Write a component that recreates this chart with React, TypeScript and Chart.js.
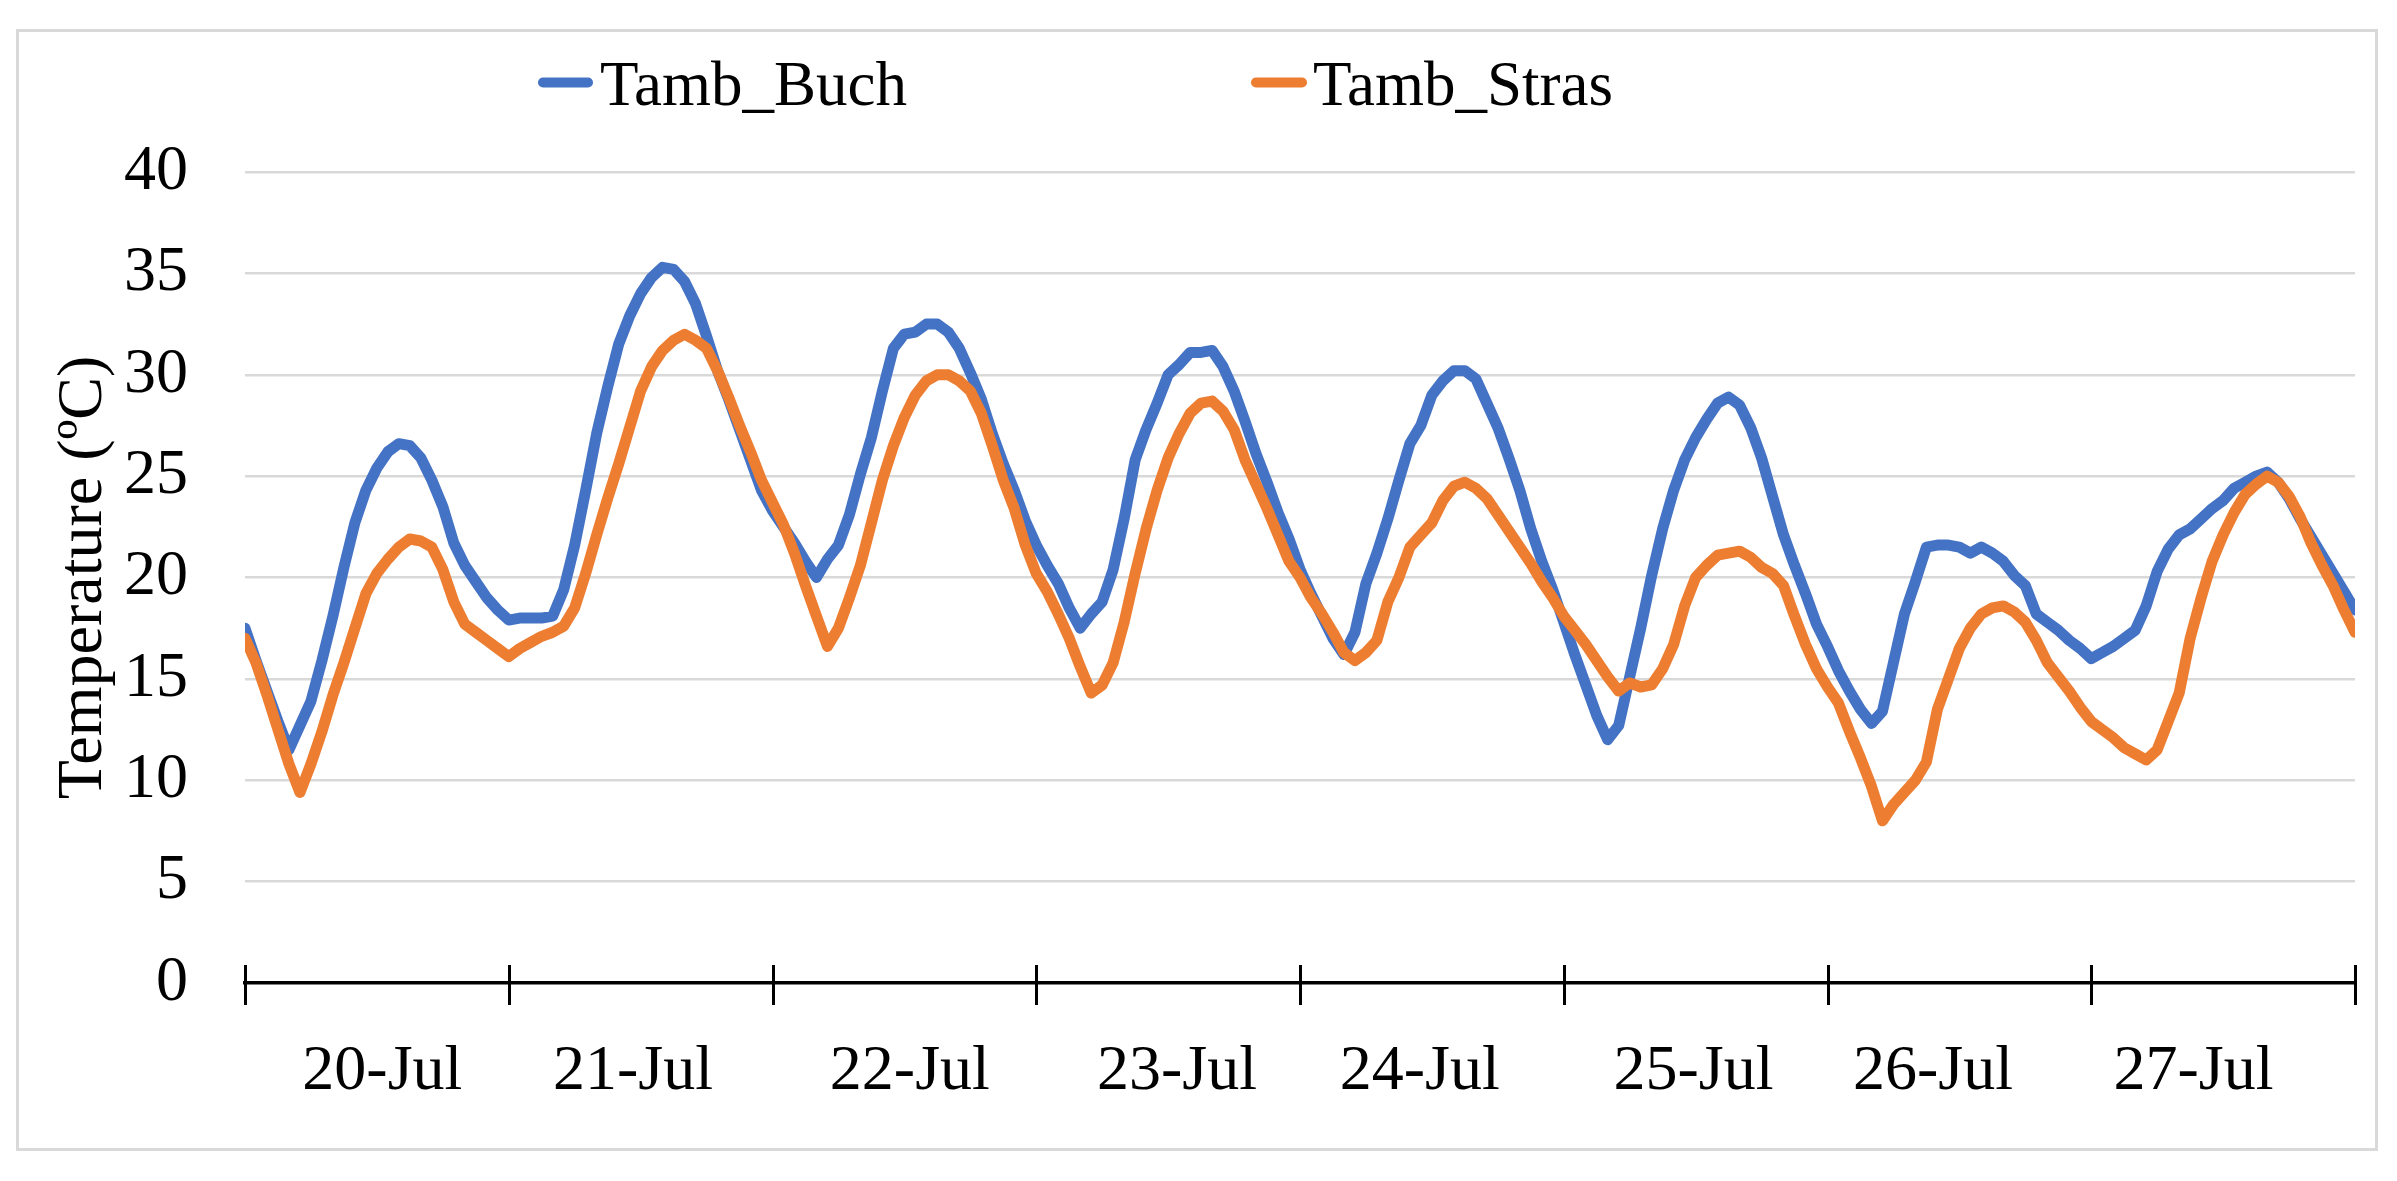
import React, { useEffect, useRef } from 'react';
import { Chart, registerables } from 'chart.js';

Chart.register(...registerables);

// Hourly air temperature, hour 0 = 20-Jul 00:00 ... hour 192 = 28-Jul 00:00
const tambBuch: number[] = [
  17.5, 15.9, 14.4, 12.9, 11.5, 12.7, 13.9, 15.9, 18.1, 20.5, 22.7, 24.3,
  25.4, 26.2, 26.6, 26.5, 25.9, 24.8, 23.5, 21.7, 20.6, 19.8, 19.0, 18.4,
  17.9, 18.0, 18.0, 18.0, 18.1, 19.4, 21.6, 24.3, 27.1, 29.4, 31.5, 32.9,
  34.0, 34.8, 35.3, 35.2, 34.6, 33.5, 31.9, 30.2, 28.8, 27.3, 25.8, 24.3,
  23.3, 22.5, 21.7, 20.8, 20.0, 20.9, 21.6, 23.1, 25.1, 26.9, 29.2, 31.3,
  32.0, 32.1, 32.5, 32.5, 32.1, 31.3, 30.1, 28.8, 27.1, 25.6, 24.3, 22.8,
  21.6, 20.6, 19.7, 18.5, 17.5, 18.2, 18.8, 20.4, 22.9, 25.8, 27.3, 28.6,
  30.0, 30.5, 31.1, 31.1, 31.2, 30.4, 29.2, 27.7, 26.1, 24.7, 23.2, 21.9,
  20.4, 19.2, 18.1, 17.0, 16.2, 17.3, 19.7, 21.2, 22.9, 24.8, 26.6, 27.5,
  29.0, 29.7, 30.2, 30.2, 29.8, 28.6, 27.4, 25.9, 24.3, 22.4, 20.8, 19.4,
  17.8, 16.2, 14.7, 13.2, 12.0, 12.7, 15.1, 17.5, 20.1, 22.4, 24.3, 25.8,
  26.9, 27.8, 28.6, 28.9, 28.5, 27.4, 25.9, 24.0, 22.1, 20.6, 19.2, 17.7,
  16.6, 15.4, 14.4, 13.5, 12.8, 13.4, 15.8, 18.2, 19.8, 21.5, 21.6, 21.6,
  21.5, 21.2, 21.5, 21.2, 20.8, 20.1, 19.6, 18.2, 17.8, 17.4, 16.9, 16.5,
  16.0, 16.3, 16.6, 17.0, 17.4, 18.6, 20.3, 21.4, 22.1, 22.4, 22.9, 23.4,
  23.8, 24.4, 24.7, 25.0, 25.2, 24.7, 23.9, 22.9, 22.0, 21.1, 20.2, 19.3,
  18.4,
];

const tambStras: number[] = [
  17.0, 15.8, 14.2, 12.5, 10.8, 9.4, 10.8, 12.4, 14.2, 15.8, 17.5, 19.2,
  20.2, 20.9, 21.5, 21.9, 21.8, 21.5, 20.4, 18.8, 17.7, 17.3, 16.9, 16.5,
  16.1, 16.5, 16.8, 17.1, 17.3, 17.6, 18.5, 20.2, 22.1, 23.9, 25.6, 27.4,
  29.2, 30.4, 31.2, 31.7, 32.0, 31.7, 31.3, 30.2, 28.9, 27.5, 26.2, 24.8,
  23.7, 22.6, 21.2, 19.6, 18.1, 16.6, 17.5, 19.0, 20.6, 22.7, 24.8, 26.5,
  27.9, 29.0, 29.7, 30.0, 30.0, 29.7, 29.2, 28.1, 26.5, 24.8, 23.4, 21.6,
  20.2, 19.3, 18.2, 17.0, 15.6, 14.3, 14.7, 15.8, 17.8, 20.2, 22.4, 24.3,
  25.9, 27.1, 28.1, 28.6, 28.7, 28.2, 27.3, 25.8, 24.6, 23.4, 22.1, 20.8,
  20.0, 19.0, 18.2, 17.3, 16.3, 15.9, 16.3, 16.9, 18.8, 20.0, 21.5, 22.1,
  22.7, 23.8, 24.5, 24.7, 24.4, 23.9, 23.1, 22.3, 21.5, 20.7, 19.8, 19.0,
  18.1, 17.4, 16.7, 15.9, 15.1, 14.4, 14.8, 14.6, 14.7, 15.5, 16.7, 18.6,
  20.0, 20.6, 21.1, 21.2, 21.3, 21.0, 20.5, 20.2, 19.6, 18.1, 16.7, 15.5,
  14.6, 13.8, 12.4, 11.1, 9.7, 8.0, 8.8, 9.4, 10.0, 10.9, 13.5, 15.0,
  16.5, 17.5, 18.2, 18.5, 18.6, 18.3, 17.8, 16.9, 15.8, 15.1, 14.4, 13.6,
  12.9, 12.5, 12.1, 11.6, 11.3, 11.0, 11.5, 12.9, 14.3, 17.0, 19.0, 20.8,
  22.1, 23.2, 24.1, 24.6, 25.0, 24.7, 24.0, 23.0, 21.7, 20.6, 19.6, 18.4,
  17.3,
];

const seriesNames: string[] = ['Tamb_Buch', 'Tamb_Stras'];
const seriesColors: string[] = ['#4472C4', '#ED7D31'];

const dayLabels: string[] = ['20-Jul', '21-Jul', '22-Jul', '23-Jul', '24-Jul', '25-Jul', '26-Jul', '27-Jul'];
const dayLabelHours: number[] = [12.5, 35.3, 60.5, 84.8, 106.9, 131.8, 153.6, 177.3];
const dayBoundaryHours: number[] = [0, 24, 48, 72, 96, 120, 144, 168, 192];

const yTitle = 'Temperature (ºC)';
const FONT = '"Liberation Serif", "Times New Roman", serif';

const W = 2397;
const H = 1181;

const framePlugin = {
  id: 'frame',
  beforeDraw(chart: any) {
    const ctx = chart.ctx;
    ctx.save();
    ctx.fillStyle = '#ffffff';
    ctx.fillRect(0, 0, chart.width, chart.height);
    ctx.strokeStyle = '#d9d9d9';
    ctx.lineWidth = 3;
    ctx.strokeRect(17.5, 30.5, 2359, 1119);
    ctx.restore();
  },
};

const dayTickPlugin = {
  id: 'dayTicks',
  afterDraw(chart: any) {
    const ctx = chart.ctx;
    const xs = chart.scales.x;
    const bottom = chart.chartArea.bottom;
    ctx.save();
    ctx.strokeStyle = '#000000';
    ctx.lineWidth = 3;
    dayBoundaryHours.forEach((h) => {
      const px = Math.round(xs.getPixelForValue(h)) + 0.5;
      ctx.beginPath();
      ctx.moveTo(px, bottom - 18);
      ctx.lineTo(px, bottom + 22);
      ctx.stroke();
    });
    ctx.restore();
  },
};

const legendPlugin = {
  id: 'customLegend',
  afterDraw(chart: any) {
    const ctx = chart.ctx;
    const items = [
      { x0: 543, x1: 588, tx: 600 },
      { x0: 1256, x1: 1302, tx: 1313 },
    ];
    ctx.save();
    ctx.font = `63px ${FONT}`;
    ctx.textBaseline = 'alphabetic';
    ctx.textAlign = 'left';
    chart.data.datasets.forEach((ds: any, i: number) => {
      const it = items[i];
      ctx.strokeStyle = ds.borderColor;
      ctx.lineWidth = 10;
      ctx.lineCap = 'round';
      ctx.beginPath();
      ctx.moveTo(it.x0, 82.5);
      ctx.lineTo(it.x1, 82.5);
      ctx.stroke();
      ctx.fillStyle = '#000000';
      ctx.fillText(ds.label, it.tx, 105);
    });
    ctx.restore();
  },
};

export default function App() {
  const canvasRef = useRef<HTMLCanvasElement | null>(null);

  useEffect(() => {
    if (!canvasRef.current) return;
    const series = [tambBuch, tambStras];
    const chart = new Chart(canvasRef.current, {
      type: 'line',
      data: {
        datasets: series.map((vals, i) => ({
          label: seriesNames[i],
          data: vals.map((v, h) => ({ x: h, y: v })),
          borderColor: seriesColors[i],
          backgroundColor: seriesColors[i],
          borderWidth: 11,
          pointRadius: 0,
          tension: 0,
          fill: false,
          borderJoinStyle: 'round',
          borderCapStyle: 'round',
          order: i === 0 ? 1 : 0,
        })),
      },
      options: {
        responsive: false,
        animation: false,
        devicePixelRatio: 1,
        layout: { padding: { left: 0, top: 172, right: 42, bottom: 0 } },
        plugins: {
          legend: { display: false },
          tooltip: { enabled: false },
        },
        scales: {
          x: {
            type: 'linear',
            min: 0,
            max: 192,
            afterBuildTicks: (scale: any) => {
              scale.ticks = dayLabelHours.map((v) => ({ value: v }));
            },
            afterFit: (scale: any) => {
              scale.height = H - 983;
            },
            ticks: {
              autoSkip: false,
              maxRotation: 0,
              minRotation: 0,
              padding: 51,
              color: '#000000',
              font: { family: FONT, size: 64 },
              callback: (_v: any, i: number) => dayLabels[i],
            },
            grid: { display: false, drawTicks: false },
            border: { display: true, color: '#000000', width: 3.5 },
          },
          y: {
            min: 0,
            max: 40,
            afterFit: (scale: any) => {
              scale.width = 245;
            },
            ticks: {
              stepSize: 5,
              padding: 57,
              color: '#000000',
              font: { family: FONT, size: 64 },
            },
            grid: {
              drawTicks: false,
              lineWidth: 2.5,
              color: (c: any) => (c.tick && c.tick.value === 0 ? 'rgba(0,0,0,0)' : '#d9d9d9'),
            },
            border: { display: false },
            title: {
              display: true,
              text: yTitle,
              color: '#000000',
              font: { family: FONT, size: 64 },
              padding: { top: 46, bottom: 0 },
            },
          },
        },
      },
      plugins: [framePlugin, dayTickPlugin, legendPlugin],
    } as any);
    return () => chart.destroy();
  }, []);

  return (
    <div style={{ position: 'fixed', left: 0, top: 0, width: W, height: H, background: '#ffffff' }}>
      <canvas ref={canvasRef} width={W} height={H} style={{ display: 'block', width: W, height: H }} />
    </div>
  );
}
